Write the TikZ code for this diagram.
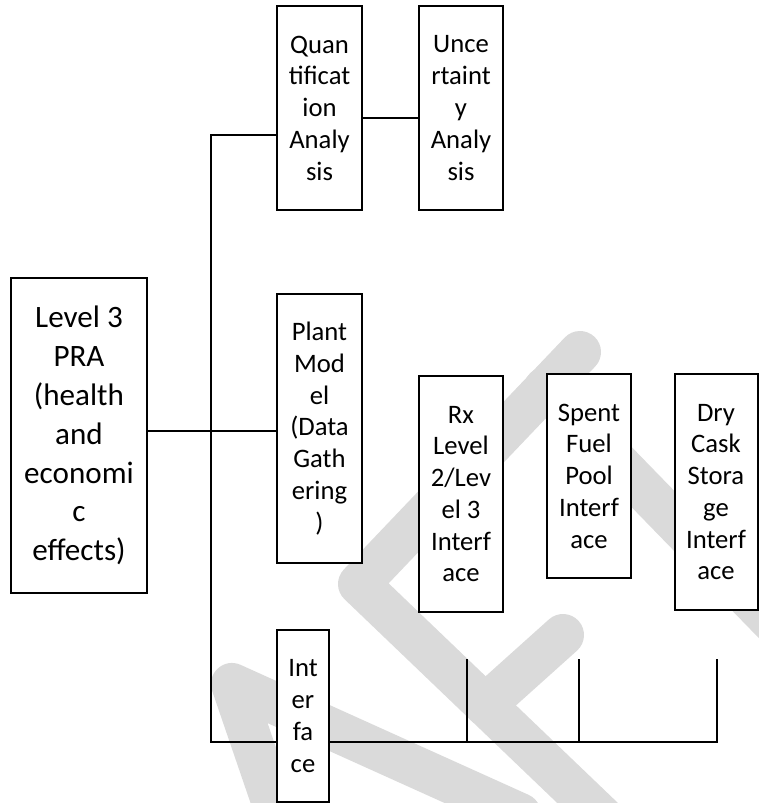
\documentclass[tikz,border=0pt]{standalone}
\usepackage{fontspec}
\setmainfont{Carlito}
\usepackage{tikz}
\definecolor{wmgray}{RGB}{218,218,218}

\begin{document}
\begin{tikzpicture}[x=0.45pt, y=-0.45pt,
        box/.style={draw, fill=white, line width=0.9pt, inner sep=0pt, align=center, font=\fontsize{12}{14.3}\selectfont},
        link/.style={line width=0.9pt},
        wm/.style={wmgray, line width=18.9pt, line cap=round, line join=round}]
        \useasboundingbox (0,0) rectangle (759,803);
        \begin{scope}
            \clip (0,0) rectangle (759,803);
            \draw[wm] (282,830) -- (232,684) -- (520,814);
            \draw[wm] (580,352) -- (359,584) -- (621,835);
            \draw[wm] (485,705) -- (563,635);
            \draw[wm] (545,388) -- (790,640);
        \end{scope}
        \node[box, minimum width=61.2pt, minimum height=141.75pt, font=\fontsize{14}{17.5}\selectfont] (lvl3) at (79,435.5) {Level 3\\PRA\\(health\\and\\economi\\c\\effects)};
        \node[box, minimum width=38.25pt, minimum height=91.8pt] (quant) at (319.5,108) {Quan\\tificat\\ion\\Analy\\sis};
        \node[box, minimum width=37.8pt, minimum height=91.8pt] (unc) at (461,108) {Unce\\rtaint\\y\\Analy\\sis};
        \node[box, minimum width=38.25pt, minimum height=121.05pt] (plant) at (319.5,428.5) {Plant\\Mod\\el\\(Data\\Gath\\ering\\)};
        \node[box, minimum width=23.4pt, minimum height=77.4pt] (iface) at (303,716) {Int\\er\\fa\\ce};
        \node[box, minimum width=37.8pt, minimum height=106.2pt] (rx) at (461,494) {Rx\\Level\\2/Lev\\el 3\\Interf\\ace};
        \node[box, minimum width=37.8pt, minimum height=91.8pt] (sfp) at (589,476) {Spent\\Fuel\\Pool\\Interf\\ace};
        \node[box, minimum width=37.35pt, minimum height=106.2pt] (dcs) at (716,492) {Dry\\Cask\\Stora\\ge\\Interf\\ace};
        \coordinate (top) at (211,135);
        \coordinate (mid) at (211,431);
        \coordinate (bot) at (211,742);
        \coordinate (qu) at (390,118);
        \coordinate (busend) at (717,742);
        \coordinate (t1) at (467,659);
        \coordinate (t2) at (579,659);
        \coordinate (t3) at (717,659);
        \draw[link] (top -| quant.west) -- (top) -- (bot) -- (bot -| iface.west);
        \draw[link] (qu -| quant.east) -- (qu -| unc.west);
        \draw[link] (mid -| lvl3.east) -- (mid -| plant.west);
        \draw[link] (bot -| iface.east) -- (busend) -- (t3);
        \draw[link] (t1) -- (t1 |- bot);
        \draw[link] (t2) -- (t2 |- bot);
    \end{tikzpicture}
\end{document}
